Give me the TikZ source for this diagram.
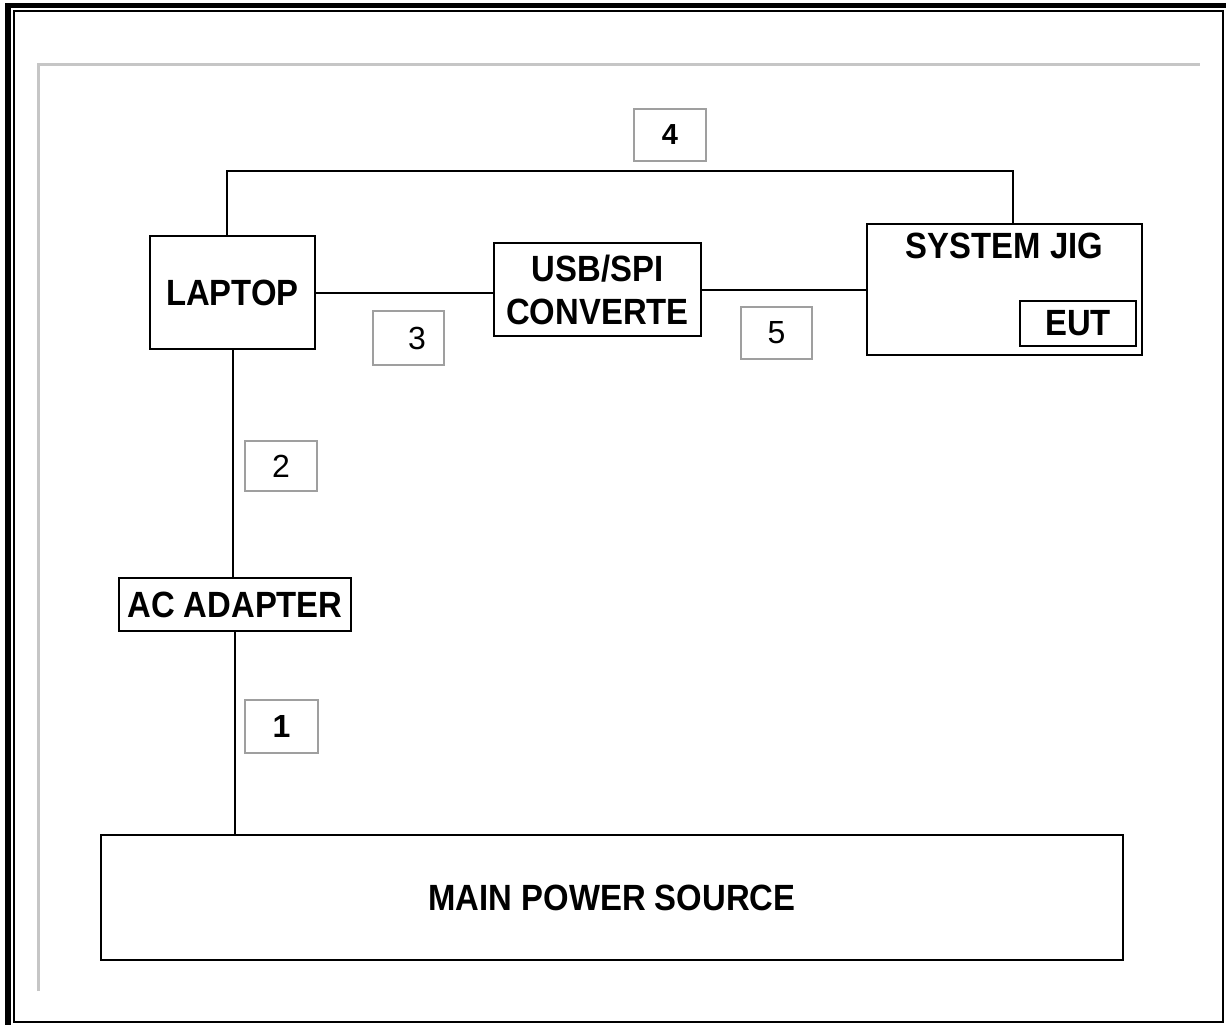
\documentclass[tikz,border=0pt]{standalone}
\usepackage{fontspec}
\setmainfont{Liberation Sans}
\usepackage{graphicx}
\usetikzlibrary{positioning}

\newcommand{\narrow}[1]{\scalebox{0.9}[1]{#1}}
\tikzset{
  unit/.style={draw, line width=2pt, inner sep=0pt, align=center,
    font=\fontsize{36.5}{43}\selectfont\bfseries},
  unitname/.style={inner sep=0pt, font=\fontsize{36.5}{43}\selectfont\bfseries},
  tag/.style={draw=gray!75, line width=2pt, inner sep=0pt,
    font=\fontsize{32}{36}\selectfont},
  wire/.style={line width=2pt},
}

\begin{document}
\begin{tikzpicture}[x=1pt,y=-1pt]
\useasboundingbox (0,0) rectangle (1226,1025);
\draw[line width=6pt] (8,1025) -- (8,5.5);
\draw[line width=5pt] (5,5.5) -- (1226,5.5);
\draw[line width=2.5pt] (14,11) rectangle (1223,1022);
\draw[gray!45, line width=3pt] (38.5,991) -- (38.5,65) -- (1200,65);

\node[unit, minimum width=165, minimum height=113] (laptop) at (232.5,292.5) {\narrow{LAPTOP}};
\node[unit, minimum width=207, minimum height=93] (usb) at (597.5,289.5) {\narrow{USB/SPI}\\\narrow{CONVERTE}};
\node[unit, minimum width=275, minimum height=131] (jig) at (1004.5,289.5) {};
\node[unitname] (jigname) at (1004.5,246) {\narrow{SYSTEM JIG}};
\node[unit, minimum width=116, minimum height=45] (eut) at (1078,323.5) {\narrow{EUT}};
\node[unit, minimum width=232, minimum height=53] (adapter) at (235,604.5) {\narrow{AC ADAPTER}};
\node[unit, minimum width=1022, minimum height=125] (main) at (612,897.5) {\narrow{MAIN POWER SOURCE}};

\node[tag, font=\fontsize{32}{36}\selectfont\bfseries, minimum width=73, minimum height=53] (tag1) at (281.5,726.5) {1};
\node[tag, minimum width=72, minimum height=50] (tag2) at (281,466) {2};
\node[tag, minimum width=71, minimum height=54] (tag3) at (408.5,338) {\hspace*{17pt}3};
\node[tag, font=\fontsize{29}{33}\selectfont\bfseries, minimum width=72, minimum height=52] (tag4) at (670,135) {4};
\node[tag, minimum width=71, minimum height=52] (tag5) at (776.5,333) {5};

\coordinate (wire4) at (0,171);
\draw[wire] ([xshift=-5.5pt]laptop.north) -- ([xshift=-5.5pt]laptop.north |- wire4) -| ([xshift=8.5pt]jig.north);
\draw[wire] (laptop.east) -- (laptop.east -| usb.west);
\draw[wire] (usb.east) -- (usb.east -| jig.west);
\draw[wire] (laptop.south) -- (laptop.south |- adapter.north);
\draw[wire] (adapter.south) -- (adapter.south |- main.north);
\end{tikzpicture}
\end{document}
